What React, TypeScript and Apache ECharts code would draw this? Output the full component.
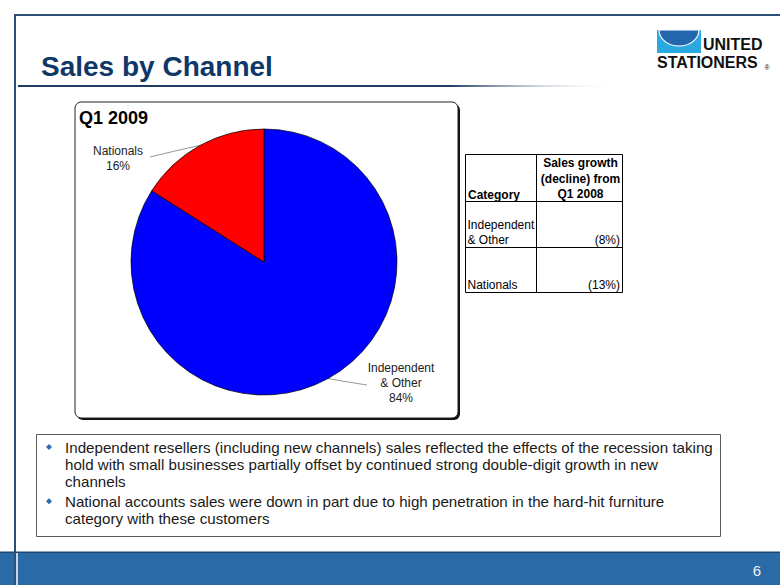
import React, { useEffect, useRef } from "react";
import * as echarts from "echarts";

const pageTitle = "Sales by Channel";
const chartTitle = "Q1 2009";
const categories = ["Independent & Other", "Nationals"];
const shares = [84, 16];
const sliceColors = ["#0000FF", "#FF0000"];
const tableHeaderLeft = "Category";
const tableHeaderRight = ["Sales growth", "(decline) from", "Q1 2008"];
const tableCategories = [["Independent", "& Other"], ["Nationals"]];
const growthValues = [-8, -13];
const bullets = [
  [
    "Independent resellers (including new channels) sales reflected the effects of the recession taking",
    "hold with small businesses partially offset by continued strong double-digit growth in new",
    "channels",
  ],
  [
    "National accounts sales were down in part due to high penetration in the hard-hit furniture",
    "category with these customers",
  ],
];
const pageNumber = "6";

const FONT = "Liberation Sans, Arial, sans-serif";

function fmtGrowth(v: number) {
  return v < 0 ? `(${Math.abs(v)}%)` : `${v}%`;
}

export default function App() {
  const ref = useRef<HTMLDivElement>(null);

  useEffect(() => {
    const el = ref.current!;
    const chart = echarts.init(el, null, { renderer: "svg" });
    const cx = 264;
    const cy = 262;
    const R = 133;
    const total = shares.reduce((a, b) => a + b, 0);

    // label placement (style) per slice
    const labelPlaces = [
      { x: 401, y: 383, mid: [348, 382], end: [367, 385] },
      { x: 118, y: 158, mid: [175, 151], end: [150, 157] },
    ];

    const edgePoint = (i: number) => {
      let before = 0;
      for (let k = 0; k < i; k++) before += shares[k];
      const mid = (before + shares[i] / 2) / total;
      const a = mid * Math.PI * 2;
      return [cx + R * Math.sin(a), cy - R * Math.cos(a)];
    };

    const graphics: any[] = [];

    // page frame
    graphics.push({ type: "rect", shape: { x: 14, y: 14, width: 766, height: 2 }, style: { fill: "#2c4f78" }, silent: true });
    // footer
    graphics.push({ type: "rect", shape: { x: 0, y: 552, width: 780, height: 33 }, style: { fill: "#2a6aa6" }, silent: true });
    graphics.push({ type: "rect", shape: { x: 0, y: 551.5, width: 780, height: 1.5 }, style: { fill: "#1d4672" }, silent: true });
    graphics.push({ type: "rect", shape: { x: 14, y: 14, width: 2, height: 571 }, style: { fill: "#2c4f78" }, silent: true });
    graphics.push({ type: "rect", shape: { x: 16, y: 553, width: 2, height: 32 }, style: { fill: "#c9d5e3" }, silent: true });
    graphics.push({
      type: "text",
      x: 757,
      y: 570,
      style: { text: pageNumber, fill: "#eef3f9", font: `15px ${FONT}`, textAlign: "center", textVerticalAlign: "middle" },
      silent: true,
    });

    // title + underline
    graphics.push({
      type: "text",
      x: 41,
      y: 66,
      style: { text: pageTitle, fill: "#0f3868", font: `bold 28px ${FONT}`, textAlign: "left", textVerticalAlign: "middle" },
      silent: true,
    });
    graphics.push({
      type: "rect",
      shape: { x: 18, y: 85, width: 600, height: 2 },
      style: {
        fill: {
          type: "linear",
          x: 0,
          y: 0,
          x2: 1,
          y2: 0,
          colorStops: [
            { offset: 0, color: "#1f3d63" },
            { offset: 0.72, color: "#1f3d63" },
            { offset: 1, color: "rgba(255,255,255,0)" },
          ],
        },
      },
      silent: true,
    });

    // logo
    graphics.push({ type: "rect", shape: { x: 657, y: 30, width: 44, height: 23 }, style: { fill: "#2aa8e0" }, silent: true });
    graphics.push({
      type: "group",
      x: 679,
      y: 30,
      scaleY: 0.8,
      children: [
        {
          type: "sector",
          shape: { cx: 0, cy: 0, r: 20, startAngle: 0, endAngle: Math.PI, clockwise: true },
          style: { fill: "#2467ae", stroke: "#ffffff", lineWidth: 1.2 },
        },
      ],
      silent: true,
    });
    graphics.push({
      type: "text",
      x: 703,
      y: 44.5,
      style: { text: "UNITED", fill: "#111", font: `900 16px ${FONT}`, textAlign: "left", textVerticalAlign: "middle" },
      silent: true,
    });
    graphics.push({
      type: "text",
      x: 657,
      y: 62.5,
      style: { text: "STATIONERS", fill: "#111", font: `900 16px ${FONT}`, textAlign: "left", textVerticalAlign: "middle" },
      silent: true,
    });
    graphics.push({
      type: "text",
      x: 767,
      y: 67,
      style: { text: "®", fill: "#111", font: `7px ${FONT}`, textAlign: "center", textVerticalAlign: "middle" },
      silent: true,
    });

    // pie box with shadow
    graphics.push({ type: "rect", z: 0, shape: { x: 77, y: 104, width: 383, height: 316, r: 6 }, style: { fill: "#111" }, silent: true });
    graphics.push({ type: "rect", z: 0, shape: { x: 75, y: 102, width: 383, height: 316, r: 6 }, style: { fill: "#fff", stroke: "#222", lineWidth: 1 }, silent: true });
    graphics.push({
      type: "text",
      x: 79,
      y: 118,
      style: { text: chartTitle, fill: "#000", font: `bold 18px ${FONT}`, textAlign: "left", textVerticalAlign: "middle" },
      silent: true,
    });

    // table
    const tx0 = 465.5, tx1 = 536.5, tx2 = 622.5;
    const rowY = [154.5, 201.5, 247.5, 292.5];
    graphics.push({ type: "rect", shape: { x: tx0, y: rowY[0], width: tx2 - tx0, height: rowY[3] - rowY[0] }, style: { fill: "#fff", stroke: "#000", lineWidth: 1 }, silent: true });
    graphics.push({ type: "line", shape: { x1: tx1, y1: rowY[0], x2: tx1, y2: rowY[3] }, style: { stroke: "#000", lineWidth: 1 }, silent: true });
    graphics.push({ type: "line", shape: { x1: tx0, y1: rowY[1], x2: tx2, y2: rowY[1] }, style: { stroke: "#000", lineWidth: 1 }, silent: true });
    graphics.push({ type: "line", shape: { x1: tx0, y1: rowY[2], x2: tx2, y2: rowY[2] }, style: { stroke: "#000", lineWidth: 1 }, silent: true });
    tableHeaderRight.forEach((t, i) => {
      graphics.push({
        type: "text",
        x: (tx1 + tx2) / 2 + 1,
        y: 163 + i * 15.7,
        style: { text: t, fill: "#000", font: `bold 12px ${FONT}`, textAlign: "center", textVerticalAlign: "middle" },
        silent: true,
      });
    });
    graphics.push({
      type: "text",
      x: 468,
      y: 194.5,
      style: { text: tableHeaderLeft, fill: "#000", font: `bold 12px ${FONT}`, textAlign: "left", textVerticalAlign: "middle" },
      silent: true,
    });
    tableCategories.forEach((lines, r) => {
      const bottomY = rowY[r + 2] - 8;
      lines.forEach((t, i) => {
        graphics.push({
          type: "text",
          x: 467.5,
          y: bottomY - (lines.length - 1 - i) * 14.5,
          style: { text: t, fill: "#000", font: `12px ${FONT}`, textAlign: "left", textVerticalAlign: "middle" },
          silent: true,
        });
      });
      graphics.push({
        type: "text",
        x: 620,
        y: bottomY,
        style: { text: fmtGrowth(growthValues[r]), fill: "#000", font: `12px ${FONT}`, textAlign: "right", textVerticalAlign: "middle" },
        silent: true,
      });
    });

    // bullet box
    graphics.push({ type: "rect", shape: { x: 36.5, y: 434.5, width: 684, height: 102 }, style: { fill: "#fff", stroke: "#5a5a5a", lineWidth: 1 }, silent: true });
    let ly = 447;
    bullets.forEach((lines) => {
      graphics.push({
        type: "polygon",
        shape: { points: [[49, ly - 3], [52, ly], [49, ly + 3], [46, ly]] },
        style: { fill: "#2b6cb0" },
        silent: true,
      });
      lines.forEach((t) => {
        graphics.push({
          type: "text",
          x: 65,
          y: ly,
          style: { text: t, fill: "#1a1a1a", font: `15.15px ${FONT}`, textAlign: "left", textVerticalAlign: "middle" },
          silent: true,
        });
        ly += 17.4;
      });
      ly += 2;
    });

    chart.setOption({
      animation: false,
      graphic: graphics,
      series: [
        {
          type: "pie",
          z: 5,
          center: [cx, cy],
          radius: R,
          startAngle: 90,
          clockwise: true,
          data: categories.map((name, i) => ({ name, value: shares[i], itemStyle: { color: sliceColors[i] } })),
          itemStyle: { borderColor: "#000", borderWidth: 0.7 },
          emphasis: { disabled: true },
          label: {
            show: true,
            position: "outside",
            color: "#222",
            fontFamily: FONT,
            fontSize: 12,
            lineHeight: 15,
            align: "center",
            formatter: (p: any) => `${String(p.name).replace(" & ", "\n& ")}\n${Math.round(p.percent)}%`,
          },
          labelLine: { show: true, lineStyle: { color: "#999", width: 1 } },
          labelLayout: (params: any) => {
            const i = params.dataIndex;
            const place = labelPlaces[i];
            const p0 =
              params.labelLinePoints && params.labelLinePoints[0]
                ? params.labelLinePoints[0]
                : edgePoint(i);
            return {
              x: place.x,
              y: place.y,
              align: "center",
              verticalAlign: "middle",
              labelLinePoints: [p0, place.mid, place.end],
            };
          },
        },
      ],
    });

    return () => chart.dispose();
  }, []);

  return (
    <div
      ref={ref}
      style={{ position: "absolute", left: 0, top: 0, width: 780, height: 585, background: "#fff" }}
    />
  );
}
